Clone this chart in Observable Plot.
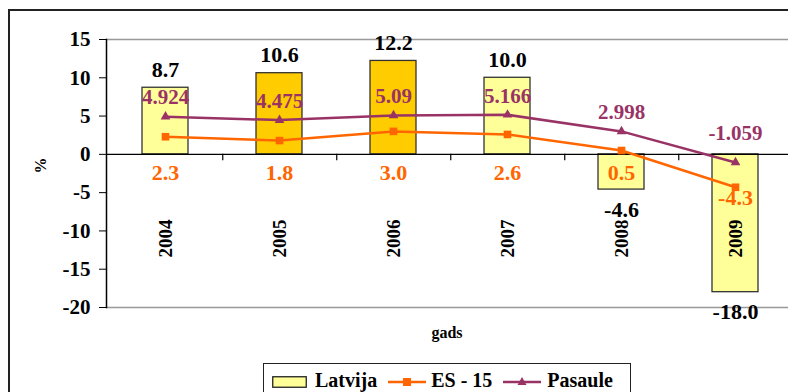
<!DOCTYPE html>
<html>
<head>
<meta charset="utf-8">
<script src="https://cdn.jsdelivr.net/npm/d3@7"></script>
<script src="https://cdn.jsdelivr.net/npm/@observablehq/plot@0.6"></script>
<style>
  html, body { margin: 0; padding: 0; background: white; overflow: hidden; }
  #wrap { position: relative; width: 788px; height: 392px; overflow: hidden; }
  #border { position: absolute; left: 8px; top: 9px; width: 900px; height: 500px; border: 2px solid #222; box-sizing: border-box; }
  #chart { position: absolute; left: 0; top: 0; }
  #chart svg, #chart svg text { font-family: "Liberation Serif", "Times New Roman", Times, serif !important; font-weight: bold; }
  #legend { position: absolute; left: 263px; top: 363px; width: 368px; height: 40px; border: 1.5px solid #222; box-sizing: border-box;
    background: white; font-family: "Liberation Serif", "Times New Roman", Times, serif; font-weight: bold; font-size: 20px; color: #000;
    display: flex; align-items: flex-start; padding-left: 8px; padding-top: 4px; }
  #legend span.t { line-height: 24px; }
  #legend svg { display: block; }
</style>
</head>
<body>
<div id="wrap">
  <div id="border"></div>
  <div id="chart"></div>
  <div id="legend"></div>
</div>
<script>
const years = ["2004", "2005", "2006", "2007", "2008", "2009"];
const latvija = [8.7, 10.6, 12.2, 10.0, -4.6, -18.0];
const es15 = [2.3, 1.8, 3.0, 2.6, 0.5, -4.3];
const pasaule = [4.924, 4.475, 5.09, 5.166, 2.998, -1.059];
const yTicks = [-20, -15, -10, -5, 0, 5, 10, 15];
const seriesNames = ["Latvija", "ES - 15", "Pasaule"];
const highlightYears = ["2005", "2006"];

const data = years.map((year, i) => ({year, latvija: latvija[i], es15: es15[i], pasaule: pasaule[i]}));

const W = 788, H = 392, ML = 106, MR = -5, MT = 39, MB = 85;
const step = (W - ML - MR) / years.length;
const cYellow = "#FFFF99", cGold = "#FFCC00", cOrange = "#FF6600", cPurple = "#993366";

const chart = Plot.plot({
  width: W, height: H,
  marginLeft: ML, marginRight: MR, marginTop: MT, marginBottom: MB,
  style: {fontFamily: "Liberation Serif", fontWeight: "bold", color: "#000", background: "transparent", overflow: "visible"},
  x: {domain: years, paddingInner: 0.6, paddingOuter: 0.3, axis: null},
  y: {domain: [-20, 15]},
  marks: [
    Plot.ruleY([15, -20], {stroke: "#999", strokeWidth: 1.5}),
    Plot.barY(data, {x: "year", y: "latvija", fill: d => highlightYears.includes(d.year) ? cGold : cYellow, stroke: "#333", strokeWidth: 1.3}),
    Plot.ruleY([0], {stroke: "#000", strokeWidth: 1.3}),
    Plot.ruleX(years.slice(0, -1), {x: d => d, dx: step / 2, y1: 0, y2: -0.85, stroke: "#000", strokeWidth: 1.2}),
    Plot.axisY({ticks: yTicks, tickFormat: d => String(d), tickSize: 7, tickPadding: 9, fontSize: 21, label: null, stroke: "#000"}),
    Plot.frame({anchor: "left", stroke: "#000", strokeWidth: 1.5}),
    // year labels
    Plot.text(years, {x: d => d, y: () => -11, text: d => d, rotate: -90, fontSize: 19, fill: "#000"}),
    // lines
    Plot.line(data, {x: "year", y: "es15", stroke: cOrange, strokeWidth: 2.5}),
    Plot.dot(data, {x: "year", y: "es15", symbol: "square", r: 4.3, fill: cOrange, stroke: null}),
    Plot.line(data, {x: "year", y: "pasaule", stroke: cPurple, strokeWidth: 2.5}),
    Plot.dot(data, {x: "year", y: "pasaule", symbol: "triangle", r: 3.6, fill: cPurple, stroke: null}),
    // Latvija labels
    Plot.text(data, {filter: d => d.latvija >= 0, x: "year", y: "latvija", text: d => d.latvija.toFixed(1), dy: -18, fontSize: 22, fill: "#000"}),
    Plot.text(data, {filter: d => d.latvija < 0, x: "year", y: "latvija", text: d => d.latvija.toFixed(1), dy: 20, fontSize: 22, fill: "#000"}),
    // ES-15 labels
    Plot.text(data, {filter: d => d.es15 >= 0, x: "year", y: () => 0, text: d => d.es15.toFixed(1), dy: 19, fontSize: 22, fill: cOrange}),
    Plot.text(data, {filter: d => d.es15 < 0, x: "year", y: "es15", text: d => d.es15.toFixed(1), dy: 11, fontSize: 22, fill: cOrange}),
    // Pasaule labels
    Plot.text(data, {filter: d => d.pasaule >= 0, x: "year", y: "pasaule", text: d => String(d.pasaule), dy: -19, fontSize: 21, fill: cPurple}),
    Plot.text(data, {filter: d => d.pasaule < 0, x: "year", y: "pasaule", text: d => String(d.pasaule), dy: -29, fontSize: 21, fill: cPurple}),
    // axis titles
    Plot.text(["%"], {frameAnchor: "left", dx: -66, rotate: -90, text: d => d, fontSize: 16, fill: "#000"}),
    Plot.text(["gads"], {frameAnchor: "bottom", dy: 30, dx: -3, text: d => d, fontSize: 16, fill: "#000"})
  ]
});
document.getElementById("chart").appendChild(chart);

// legend
const legend = document.getElementById("legend");
function swatchRect() {
  return `<svg width="35" height="12" style="margin-top:8px"><rect x="0.75" y="0.75" width="33.5" height="10.5" fill="${cYellow}" stroke="#222" stroke-width="1.3"/></svg>`;
}
function swatchLine(color, sym) {
  const marker = sym === "square"
    ? `<rect x="15" y="4" width="8" height="8" fill="${color}"/>`
    : `<path d="M19,3 L23.5,11 L14.5,11 Z" fill="${color}"/>`;
  return `<svg width="38" height="16" style="margin-top:6px"><line x1="0" y1="8" x2="38" y2="8" stroke="${color}" stroke-width="2.5"/>${marker}</svg>`;
}
legend.innerHTML =
  swatchRect() + `<span class="t" style="margin-left:8px">${seriesNames[0]}</span>` +
  `<span style="margin-left:11px">${swatchLine(cOrange, "square")}</span>` + `<span class="t" style="margin-left:5px">${seriesNames[1]}</span>` +
  `<span style="margin-left:11px">${swatchLine(cPurple, "triangle")}</span>` + `<span class="t" style="margin-left:6px">${seriesNames[2]}</span>`;
</script>
</body>
</html>
